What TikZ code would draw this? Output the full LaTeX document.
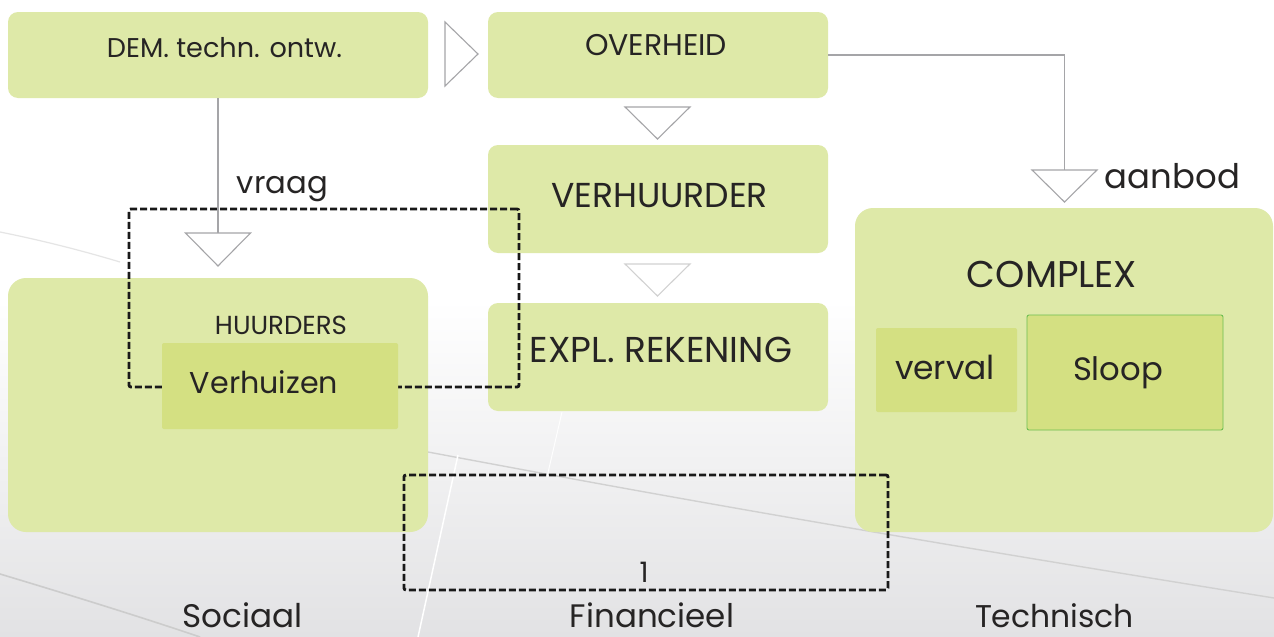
\documentclass[tikz,border=0pt]{standalone}
\usepackage{fontspec}
\usepackage{graphicx}
\setmainfont{Poppins}
\definecolor{boxgreen}{RGB}{222,233,168}
\definecolor{innergreen}{RGB}{212,224,130}
\definecolor{sloopedge}{RGB}{108,190,80}
\definecolor{ink}{RGB}{38,36,36}
\definecolor{arrowgray}{RGB}{165,165,168}
\definecolor{bgfar}{RGB}{226,226,228}
% text of a given width (in pt), scaled uniformly
\newcommand\fitw[2]{\resizebox{#1pt}{!}{#2}}
\tikzset{
  box/.style={fill=boxgreen, draw=none, rounded corners=10pt, inner sep=0pt},
  bigbox/.style={box, rounded corners=18pt},
  innerbox/.style={fill=innergreen, draw=none, rounded corners=2pt, inner sep=0pt},
  label/.style={text=ink, inner sep=0pt, anchor=base},
  frame/.style={draw=black!90, line width=2.9pt, dash pattern=on 7pt off 3pt, rounded corners=2pt, inner sep=0pt},
  conn/.style={draw=arrowgray, line width=1.2pt},
  tri/.style={draw=arrowgray, fill=white, line width=1.1pt, line join=miter},
  pale/.style={tri, draw=black!18},
}
\begin{document}
\begin{tikzpicture}[x=1pt, y=-1pt]
% backdrop
\useasboundingbox (0,0) rectangle (1274,637);
\fill[white] (0,0) rectangle (1274,637);
\shade[top color=white, bottom color=bgfar] (0,300) rectangle (1274,637);
\draw[black!20, line width=1.6pt] (0,574) .. controls (80,598) and (150,620) .. (200,637);
\draw[black!18, line width=1.4pt] (428,452) .. controls (620,488) and (820,525) .. (1274,598);
\draw[black!10, line width=1.2pt] (0,232) .. controls (40,240) and (80,250) .. (120,262);
\draw[white, line width=1.5pt] (458,455) -- (418,637);
\draw[white!90!black!5, line width=1pt] (562,412) -- (547,477);

% boxes
\node[box, minimum width=420, minimum height=86] (dem) at (218,55) {};
\node[box, minimum width=340, minimum height=86] (overheid) at (658,55) {};
\node[box, minimum width=340, minimum height=108] (verhuurder) at (658,199) {};
\node[box, minimum width=340, minimum height=108] (expl) at (658,357) {};
\node[bigbox, minimum width=420, minimum height=254] (huurders) at (218,405) {};
\node[bigbox, minimum width=418, minimum height=324] (complex) at (1064,370) {};

% group frames
\node[frame, minimum width=390, minimum height=178] (grpsocial) at (324,298) {};
\node[frame, minimum width=484, minimum height=115] (grpfin) at (646,532.5) {};

% inner boxes
\node[innerbox, minimum width=236, minimum height=86] (verhuizen) at (280,386) {};
\node[innerbox, minimum width=141, minimum height=84] (verval) at (946.5,370) {};
\node[innerbox, draw=sloopedge, line width=0.9pt, minimum width=196, minimum height=115] (sloop) at (1125,372.5) {};

% arrowheads
\coordinate (flowtip) at (445,22);
\coordinate (govtip) at (657.5,107);
\coordinate (lettip) at (657.5,264);
\coordinate (vraagtip) at (218,233);
\coordinate (aanbodtip) at (1064.5,170);
\draw[tri] (flowtip) -- ++(0,64) -- ++(33,-32) -- cycle;
\draw[tri] (govtip) ++(-32.5,0) -- ++(65,0) -- ++(-32.5,32) -- cycle;
\draw[pale] (lettip) ++(-32.5,0) -- ++(65,0) -- ++(-32.5,32) -- cycle;
\draw[tri] (vraagtip) ++(-32.5,0) -- ++(65,0) -- ++(-32.5,33) -- cycle;
\draw[tri] (aanbodtip) ++(-32.5,0) -- ++(65,0) -- ++(-32.5,32) -- cycle;

% connectors
\draw[conn] (dem.south) -- (vraagtip);
\draw[conn] (overheid.east) -| (aanbodtip);

% texts
\node[label] (tdem) at (224.5,57) {\fitw{235}{DEM. techn. ontw.}};
\node[label] (tover) at (656,55) {\fitw{142}{OVERHEID}};
\node[label] (tverh) at (659.5,207) {\fitw{217}{VERHUURDER}};
\node[label] (texpl) at (661,362) {\fitw{262}{EXPL. REKENING}};
\node[label] (thuur) at (281,334) {\fitw{132}{HUURDERS}};
\node[label] (tverhuiz) at (264,393) {\fitw{148}{Verhuizen}};
\node[label] (tcomplex) at (1052,287) {\fitw{170}{COMPLEX}};
\node[label] (tverval) at (945,379) {\fitw{100}{verval}};
\node[label] (tsloop) at (1118,380) {\fitw{90}{Sloop}};
\node[label] (tvraag) at (282.5,193) {\fitw{91}{vraag}};
\node[label] (taanbod) at (1172.5,188) {\fitw{135}{aanbod}};
\node[label] (tone) at (644,582) {\fitw{9}{1}};
\node[label] (tsoc) at (242.5,627) {\fitw{120}{Sociaal}};
\node[label] (tfin) at (652,627) {\fitw{164}{Financieel}};
\node[label] (ttech) at (1054.5,627) {\fitw{159}{Technisch}};
\end{tikzpicture}
\end{document}
